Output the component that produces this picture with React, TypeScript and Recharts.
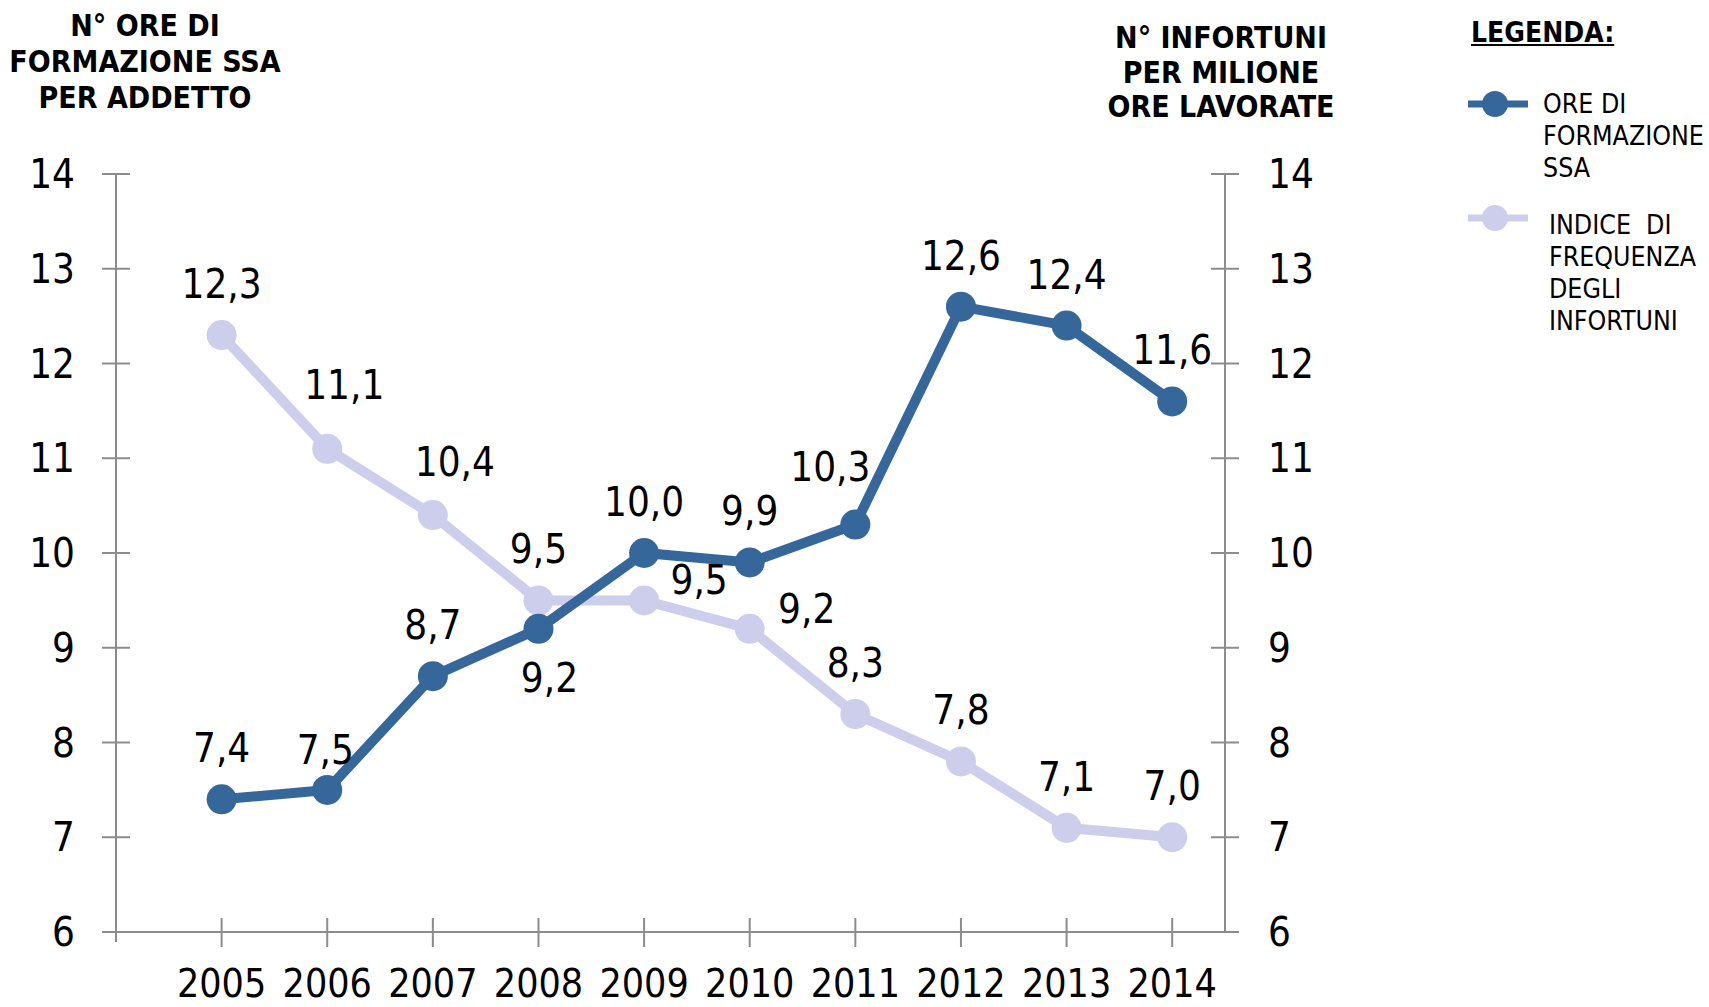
import { LineChart, Line, XAxis, YAxis, Legend, LabelList } from 'recharts'

const years = [2005, 2006, 2007, 2008, 2009, 2010, 2011, 2012, 2013, 2014]
const oreFormazione = [7.4, 7.5, 8.7, 9.2, 10.0, 9.9, 10.3, 12.6, 12.4, 11.6]
const indiceInfortuni = [12.3, 11.1, 10.4, 9.5, 9.5, 9.2, 8.3, 7.8, 7.1, 7.0]
const yTicks = [6, 7, 8, 9, 10, 11, 12, 13, 14]
const xTicks = [2004, 2005, 2006, 2007, 2008, 2009, 2010, 2011, 2012, 2013, 2014]

const DARK = '#35679b'
const LIGHT = '#cdcdec'
const AXIS = '#8c8c8c'
const FONT = '"DejaVu Sans Condensed", "DejaVu Sans", sans-serif'

const data = years.map((year, i) => ({
  year,
  ore: oreFormazione[i],
  indice: indiceInfortuni[i],
}))

const fmt = (v: number) => v.toFixed(1).replace('.', ',')

function LeftTick({ x, y, payload }: any) {
  return (
    <g>
      <line x1={x - 14} x2={x + 14} y1={y} y2={y} stroke={AXIS} strokeWidth={2} />
      <text x={x - 41} y={y} textAnchor="end" dominantBaseline="central" fontSize={40} fontFamily={FONT} fill="#000">
        {payload.value}
      </text>
    </g>
  )
}

function RightTick({ x, y, payload }: any) {
  return (
    <g>
      <line x1={x - 14} x2={x + 14} y1={y} y2={y} stroke={AXIS} strokeWidth={2} />
      <text x={x + 43} y={y} textAnchor="start" dominantBaseline="central" fontSize={40} fontFamily={FONT} fill="#000">
        {payload.value}
      </text>
    </g>
  )
}

function YearTick({ x, y, payload }: any) {
  const first = payload.value === 2004
  return (
    <g>
      <line x1={x} x2={x} y1={first ? y : y - 14} y2={first ? y + 10 : y + 15} stroke={AXIS} strokeWidth={2} />
      {!first && (
        <text x={x} y={y + 51} textAnchor="middle" dominantBaseline="central" fontSize={39} fontFamily={FONT} fill="#000">
          {payload.value}
        </text>
      )}
    </g>
  )
}

// manual nudges for labels that were moved in the original
const labelNudge: Record<string, [number, number]> = {
  'ore-1': [-2, -40],
  'ore-3': [11, 49],
  'ore-6': [-25, -58],
  'indice-1': [17, -64],
  'indice-2': [22, -53],
  'indice-4': [55, -20],
  'indice-5': [57, -20],
}

function makeLabel(series: 'ore' | 'indice') {
  return (props: any) => {
    const { x, y, value, index } = props
    const [dx, dy] = labelNudge[`${series}-${index}`] ?? [0, -51]
    return (
      <text x={x + dx} y={y + dy} textAnchor="middle" dominantBaseline="central" fontSize={40} fontFamily={FONT} fill="#000">
        {fmt(value)}
      </text>
    )
  }
}

function LegendItem({ color, lines, lineY, textX, textY }: any) {
  return (
    <>
      <svg width={62} height={40} style={{ position: 'absolute', left: 1468, top: lineY - 20 }}>
        <line x1={0} x2={60} y1={20} y2={20} stroke={color} strokeWidth={7} />
        <circle cx={27} cy={20} r={13} fill={color} />
      </svg>
      <div
        style={{
          position: 'absolute',
          left: textX,
          top: textY - 16,
          fontFamily: FONT,
          fontSize: 26.5,
          lineHeight: '32px',
          color: '#000',
          whiteSpace: 'pre',
        }}
      >
        {lines.join('\n')}
      </div>
    </>
  )
}

function LegendBox() {
  return (
    <div>
      <div
        style={{
          position: 'absolute',
          left: 1471,
          top: 16,
          fontFamily: FONT,
          fontWeight: 'bold',
          fontSize: 28,
          textDecoration: 'underline',
          color: '#000',
        }}
      >
        LEGENDA:
      </div>
      <LegendItem color={DARK} lines={['ORE DI', 'FORMAZIONE', 'SSA']} lineY={104} textX={1543} textY={104} />
      <LegendItem color={LIGHT} lines={['INDICE  DI', 'FREQUENZA', 'DEGLI', 'INFORTUNI']} lineY={218} textX={1549} textY={225} />
    </div>
  )
}

const titleStyle = {
  position: 'absolute' as const,
  fontFamily: FONT,
  fontWeight: 'bold' as const,
  fontSize: 30,
  textAlign: 'center' as const,
  color: '#000',
  whiteSpace: 'pre' as const,
}

export default function App() {
  return (
    <div style={{ position: 'absolute', left: 0, top: 0, width: 1709, height: 1007, background: '#fff' }}>
      <LineChart
        width={1709}
        height={1007}
        data={data}
        margin={{ left: 115, right: 483, top: 174, bottom: 74 }}
      >
        <XAxis
          dataKey="year"
          type="number"
          domain={[2004, 2014.5]}
          ticks={xTicks}
          interval={0}
          height={1}
          tickSize={0}
          tickMargin={0}
          tickLine={false}
          axisLine={{ stroke: AXIS, strokeWidth: 2 }}
          tick={<YearTick />}
          allowDataOverflow
        />
        <YAxis
          yAxisId="left"
          domain={[6, 14]}
          ticks={yTicks}
          interval={0}
          width={1}
          tickSize={0}
          tickMargin={0}
          tickLine={false}
          axisLine={{ stroke: AXIS, strokeWidth: 2 }}
          tick={<LeftTick />}
        />
        <YAxis
          yAxisId="right"
          orientation="right"
          domain={[6, 14]}
          ticks={yTicks}
          interval={0}
          width={1}
          tickSize={0}
          tickMargin={0}
          tickLine={false}
          axisLine={{ stroke: AXIS, strokeWidth: 2 }}
          tick={<RightTick />}
        />
        <Legend content={() => null} />
        <Line
          yAxisId="right"
          dataKey="indice"
          stroke={LIGHT}
          strokeWidth={10}
          dot={{ r: 15, fill: LIGHT, stroke: 'none' }}
          isAnimationActive={false}
        >
          <LabelList dataKey="indice" content={makeLabel('indice')} />
        </Line>
        <Line
          yAxisId="left"
          dataKey="ore"
          stroke={DARK}
          strokeWidth={10}
          dot={{ r: 15, fill: DARK, stroke: 'none' }}
          isAnimationActive={false}
        >
          <LabelList dataKey="ore" content={makeLabel('ore')} />
        </Line>
      </LineChart>
      <div style={{ ...titleStyle, left: 5, width: 280, top: 8, lineHeight: '36px' }}>
        {'N° ORE DI\nFORMAZIONE SSA\nPER ADDETTO'}
      </div>
      <div style={{ ...titleStyle, left: 1071, width: 300, top: 21, lineHeight: '34.5px' }}>
        {'N° INFORTUNI\nPER MILIONE\nORE LAVORATE'}
      </div>
      <LegendBox />
    </div>
  )
}
